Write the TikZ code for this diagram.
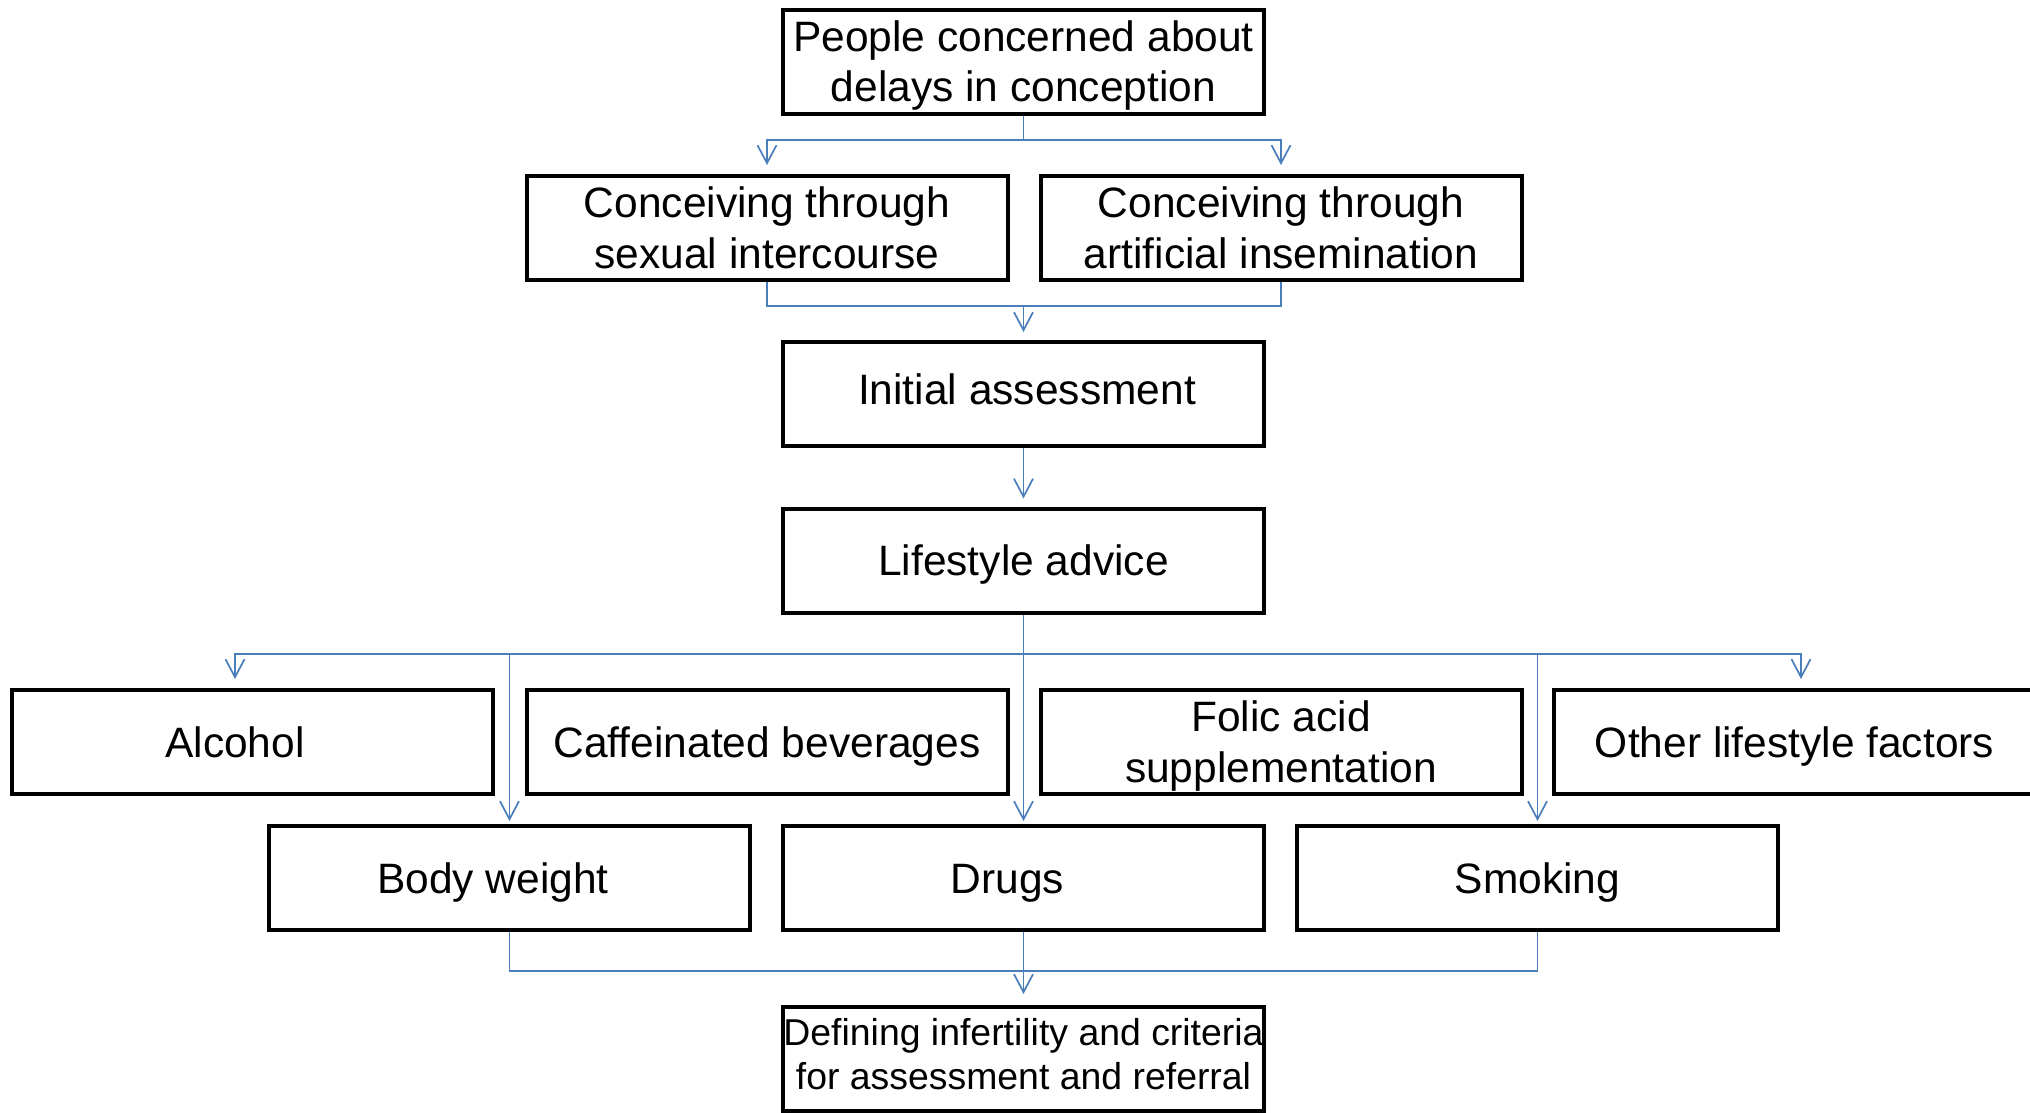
\documentclass[tikz,border=0pt]{standalone}
\usepackage{fontspec}
\setmainfont{Liberation Sans}
\usetikzlibrary{arrows.meta}
\definecolor{linkblue}{RGB}{74,126,187}
\newcommand\mystrut{\rule[-0.22em]{0pt}{1.156em}}
\begin{document}
\begin{tikzpicture}[x=1pt,y=-1pt,
  txt/.style={align=center, font=\fontsize{42.5}{50.5}\selectfont},
  box/.style={txt, draw=black, line width=4pt, minimum width=481pt, minimum height=104pt,
    inner sep=0pt},
  lbl/.style={txt, inner sep=0pt},
  conn/.style={draw=linkblue, line width=1.7pt},
  arr/.style={conn, -{Straight Barb[length=18pt,width=19pt]}}
]
\useasboundingbox (0,0) rectangle (2030,1112);
\clip (0,0) rectangle (2030,1112);

% boxes
\node[box] (top) at (1023.5,61.5) {\mystrut People concerned about\\\mystrut delays in conception};
\node[box] (sexual) at (767,228) {\mystrut Conceiving through\\\mystrut sexual intercourse};
\node[box] (artificial) at (1281,228) {\mystrut Conceiving through\\\mystrut artificial insemination};
\node[box] (initial) at (1023.5,394) {};
\node[lbl] (initialtxt) at (1027,389.5) {\mystrut Initial assessment};
\node[box] (lifestyle) at (1023.5,560.5) {\mystrut Lifestyle advice};
\node[box] (alcohol) at (252.5,742) {};
\node[lbl] (alcoholtxt) at (235,742) {\mystrut Alcohol};
\node[box] (caffeine) at (767,742) {\mystrut Caffeinated beverages};
\node[box] (folic) at (1281,742) {\mystrut Folic acid\\\mystrut supplementation};
\node[box] (other) at (1794.5,742) {\mystrut Other lifestyle factors};
\node[box] (bodyw) at (509.5,878) {};
\node[lbl] (bodywtxt) at (493,878) {\mystrut Body weight};
\node[box] (drugs) at (1023.5,878) {};
\node[lbl] (drugstxt) at (1007.5,878) {\mystrut Drugs};
\node[box] (smoking) at (1537.5,878) {\mystrut Smoking};
\node[box, font=\fontsize{37.4}{44}\selectfont] (defining) at (1023.5,1059)
  {\mystrut Defining infertility and criteria\\for assessment and referral\rule[-18.2pt]{0pt}{53.2pt}};

% bus levels
\coordinate (bus1) at (0,140);
\coordinate (bus2) at (0,306);
\coordinate (bus3) at (0,654);
\coordinate (bus4) at (0,971);

% connectors
\draw[arr, shorten >=9pt] (top.south) -- (top.south |- bus1) -| (sexual.north);
\draw[arr, shorten >=9pt] (top.south |- bus1) -| (artificial.north);

\draw[conn] (sexual.south) -- (sexual.south |- bus2) -- (artificial.south |- bus2) -- (artificial.south);
\draw[arr, shorten >=8pt] (initial.north |- bus2) -- (initial.north);

\draw[arr, shorten >=8pt] (initial.south) -- (lifestyle.north);

\draw[arr, shorten >=3pt] (lifestyle.south) -- (drugs.north);
\draw[arr, shorten >=9pt] (lifestyle.south |- bus3) -| (alcoholtxt |- alcohol.north);
\draw[arr, shorten >=9pt] (lifestyle.south |- bus3) -| ([xshift=6.5pt]other.north);
\draw[arr, shorten >=3pt] (bodyw.north |- bus3) -- (bodyw.north);
\draw[arr, shorten >=3pt] (smoking.north |- bus3) -- (smoking.north);

\draw[conn] (bodyw.south) -- (bodyw.south |- bus4) -- (smoking.south |- bus4) -- (smoking.south);
\draw[arr, shorten >=11pt] (drugs.south) -- (defining.north);
\end{tikzpicture}
\end{document}
